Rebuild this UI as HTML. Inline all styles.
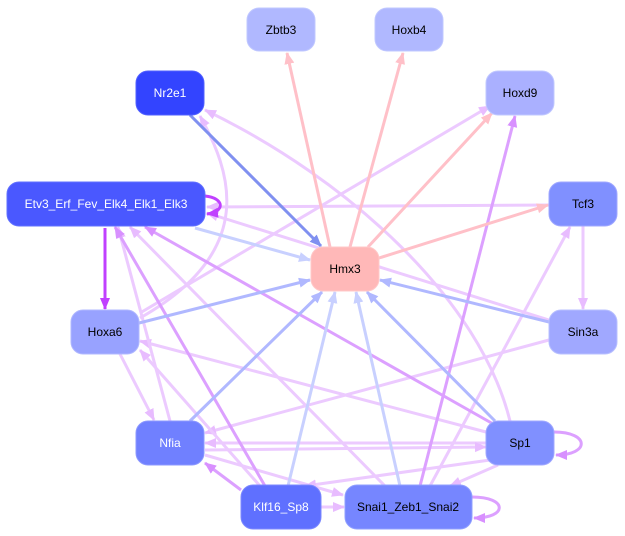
<!DOCTYPE html>
<html><head><meta charset="utf-8"><style>
html,body{margin:0;padding:0;background:#fff;}
svg{display:block;}
text{font-family:"Liberation Sans",sans-serif;font-size:12px;text-anchor:middle;dominant-baseline:central;}
</style></head><body>
<svg width="625" height="536" viewBox="0 0 625 536" xmlns="http://www.w3.org/2000/svg">
<defs>
<marker id="pk" markerUnits="userSpaceOnUse" markerWidth="12" markerHeight="12" refX="11" refY="6" orient="auto"><path d="M0,1 L12,6 L0,11 z" fill="#ffc0c8"/></marker>
<marker id="b1" markerUnits="userSpaceOnUse" markerWidth="12" markerHeight="12" refX="11" refY="6" orient="auto"><path d="M0,1 L12,6 L0,11 z" fill="#8090f0"/></marker>
<marker id="b2" markerUnits="userSpaceOnUse" markerWidth="12" markerHeight="12" refX="11" refY="6" orient="auto"><path d="M0,1 L12,6 L0,11 z" fill="#b0b8ff"/></marker>
<marker id="b3" markerUnits="userSpaceOnUse" markerWidth="12" markerHeight="12" refX="11" refY="6" orient="auto"><path d="M0,1 L12,6 L0,11 z" fill="#c8d0ff"/></marker>
<marker id="lv" markerUnits="userSpaceOnUse" markerWidth="12" markerHeight="12" refX="11" refY="6" orient="auto"><path d="M0,1 L12,6 L0,11 z" fill="#e8bcff"/></marker>
<marker id="vi" markerUnits="userSpaceOnUse" markerWidth="12" markerHeight="12" refX="11" refY="6" orient="auto"><path d="M0,1 L12,6 L0,11 z" fill="#d890ff"/></marker>
<marker id="pu" markerUnits="userSpaceOnUse" markerWidth="12" markerHeight="12" refX="11" refY="6" orient="auto"><path d="M0,1 L12,6 L0,11 z" fill="#c040ff"/></marker>
</defs>
<g fill="none" stroke-width="3">
<!-- lavender edges -->
<g stroke="#eccaff" marker-end="url(#lv)">
<line x1="549" y1="205" x2="207" y2="207"/>
<line x1="549" y1="320" x2="207" y2="213"/>
<line x1="385" y1="486" x2="130" y2="227"/>
<line x1="583" y1="226" x2="583" y2="309"/>
<line x1="549" y1="340" x2="205" y2="433"/>
<line x1="486" y1="432" x2="140" y2="341"/>
<line x1="486" y1="443" x2="205" y2="443"/>
<line x1="205" y1="450" x2="486" y2="447"/>
<line x1="490" y1="460" x2="305" y2="486"/>
<line x1="498" y1="465" x2="450" y2="486"/>
<line x1="430" y1="486" x2="570" y2="227"/>
<line x1="321" y1="507" x2="344" y2="507"/>
<line x1="205" y1="455" x2="343" y2="495"/>
<line x1="120" y1="354" x2="154" y2="420"/>
<line x1="260" y1="486" x2="140" y2="350"/>
<line x1="170" y1="421" x2="118" y2="227"/>
<line x1="140" y1="313" x2="490" y2="106"/>
<path d="M140,318 C260,250 230,170 200,116"/>
<path d="M510,421 C480,300 350,180 205,110"/>
</g>
<g stroke="#dca0ff" marker-end="url(#vi)">
<line x1="495" y1="425" x2="145" y2="227"/>
<line x1="265" y1="486" x2="115" y2="227"/>
<line x1="420" y1="486" x2="515" y2="116"/>
<line x1="241" y1="490" x2="205" y2="463"/>
<path d="M554,432 C590,432 590,455 556,455"/>
<path d="M472,497 C508,497 508,518 474,518"/>
</g>
<path d="M205,196 C225,198 225,212 207,214" stroke="#c040ff" marker-end="url(#pu)"/>
<line x1="105" y1="228" x2="105" y2="309" stroke="#c040ff" marker-end="url(#pu)"/>
<!-- pink -->
<g stroke="#ffc0c8" marker-end="url(#pk)">
<line x1="330" y1="247" x2="287" y2="53"/>
<line x1="350" y1="247" x2="403" y2="53"/>
<line x1="368" y1="247" x2="492" y2="113"/>
<line x1="379" y1="258" x2="548" y2="205"/>
</g>
<line x1="190" y1="115" x2="321" y2="246" stroke="#8090f0" marker-end="url(#b1)"/>
<g stroke="#b0b8ff" marker-end="url(#b2)">
<line x1="139" y1="323" x2="310" y2="280"/>
<line x1="549" y1="322" x2="380" y2="280"/>
<line x1="190" y1="421" x2="322" y2="292"/>
<line x1="495" y1="421" x2="367" y2="292"/>
</g>
<g stroke="#c8d0ff" marker-end="url(#b3)">
<line x1="195" y1="228" x2="310" y2="260"/>
<line x1="288" y1="486" x2="335" y2="292"/>
<line x1="400" y1="486" x2="356" y2="292"/>
</g>
</g>
<g stroke-width="1">
<rect x="247" y="8" width="68" height="43" rx="12" fill="#b0b8ff" stroke="#c0c8ff"/>
<rect x="375" y="8" width="68" height="43" rx="12" fill="#b0b8ff" stroke="#c0c8ff"/>
<rect x="136" y="71" width="68" height="44" rx="12" fill="#3344ff" stroke="#5060ff"/>
<rect x="486" y="71" width="68" height="44" rx="12" fill="#aab0ff" stroke="#c0c8ff"/>
<rect x="7" y="182" width="198" height="44" rx="12" fill="#4a58ff" stroke="#6070ff"/>
<rect x="549" y="182" width="68" height="44" rx="12" fill="#8090ff" stroke="#a0a8ff"/>
<rect x="311" y="247" width="68" height="44" rx="12" fill="#ffb8b8" stroke="#ffc8c8"/>
<rect x="71" y="310" width="68" height="44" rx="12" fill="#98a2ff" stroke="#b0b8ff"/>
<rect x="549" y="310" width="68" height="44" rx="12" fill="#a0a8ff" stroke="#b8c0ff"/>
<rect x="136" y="421" width="68" height="44" rx="12" fill="#7080ff" stroke="#8c98ff"/>
<rect x="486" y="421" width="68" height="44" rx="12" fill="#8090ff" stroke="#a0a8ff"/>
<rect x="241" y="485" width="80" height="44" rx="12" fill="#5f70ff" stroke="#7c88ff"/>
<rect x="345" y="485" width="127" height="44" rx="12" fill="#7686ff" stroke="#90a0ff"/>
</g>
<text x="281" y="30">Zbtb3</text>
<text x="409" y="30">Hoxb4</text>
<text x="170" y="93" fill="#fff">Nr2e1</text>
<text x="520" y="93">Hoxd9</text>
<text x="106" y="204" fill="#fff">Etv3_Erf_Fev_Elk4_Elk1_Elk3</text>
<text x="583" y="204">Tcf3</text>
<text x="345" y="269">Hmx3</text>
<text x="105" y="332">Hoxa6</text>
<text x="583" y="332">Sin3a</text>
<text x="170" y="443" fill="#fff">Nfia</text>
<text x="520" y="443">Sp1</text>
<text x="281" y="507" fill="#fff">Klf16_Sp8</text>
<text x="408" y="507">Snai1_Zeb1_Snai2</text>
</svg>
</body></html>
